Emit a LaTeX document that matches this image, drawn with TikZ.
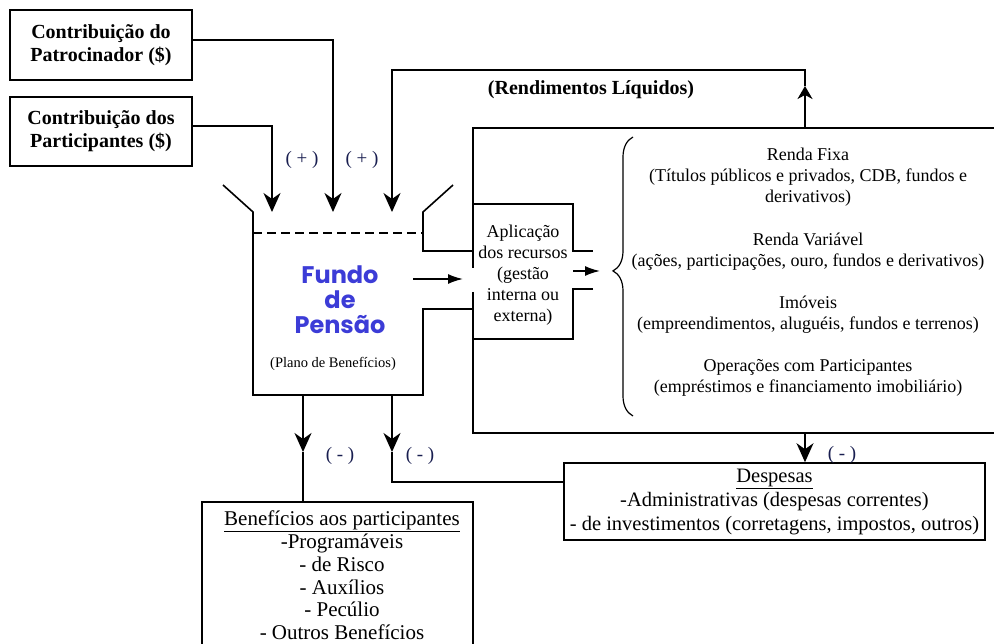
\documentclass[tikz,border=0pt]{standalone}
\usepackage{fontspec}
\setmainfont{Liberation Serif}
\newfontfamily\fundfont{Poppins}
\usetikzlibrary{arrows.meta,decorations.pathreplacing}
\definecolor{fundblue}{RGB}{60,60,215}
\definecolor{signcol}{RGB}{25,30,80}
\begin{document}
\begin{tikzpicture}[x=1pt,y=-1pt, line width=1.6pt,
  box/.style={draw, rectangle, inner sep=0pt, align=center},
  arr/.style={-{Stealth[length=19pt,width=17pt,inset=6pt]}},
  uarr/.style={-{Stealth[length=13pt,width=15pt,inset=4pt]}},
  sarr/.style={-{Latex[length=15pt,width=10pt]}},
  lbl/.style={inner sep=0pt, align=center},
  bigtxt/.style={font=\bfseries\fontsize{20}{23}\selectfont},
  midtxt/.style={font=\fontsize{18}{21}\selectfont},
  sign/.style={lbl, text=signcol, font=\fontsize{19}{21}\selectfont}]
\fill[white] (0,0) rectangle (994,644);
\useasboundingbox (0,0) rectangle (994,644);

% source boxes
\node[box, bigtxt, minimum width=182pt, minimum height=70pt] (patro) at (101,45) {Contribuição do\\Patrocinador (\$)};
\node[box, bigtxt, minimum width=182pt, minimum height=69pt] (partic) at (101,131.5) {Contribuição dos\\Participantes (\$)};

% helper coordinates
\coordinate (in1) at (272,212);
\coordinate (in2) at (333,212);
\coordinate (in3) at (392,212);
\coordinate (h40) at (0,40);
\coordinate (h126) at (0,126);
\coordinate (h482) at (0,482);
\coordinate (fb1) at (303,395);
\coordinate (fb2) at (392,395);
\coordinate (m1) at (303,452);
\coordinate (m2) at (392,452);
\coordinate (bbu) at (805,128);
\coordinate (upt) at (805,86);
\coordinate (topr) at (805,70);
\coordinate (bbd) at (805,433);
\coordinate (fa1) at (413,279);
\coordinate (fa2) at (463,279);
\coordinate (ab1) at (573,271);
\coordinate (ab2) at (600,271);

% funnel (fund)
\draw (223,185) -- (253,212) -- (253,395) -- (423,395) -- (423,309) -- (473,309);
\draw (453,185) -- (423,212) -- (423,251) -- (473,251);
\draw[dash pattern=on 9pt off 5pt] (253,233) -- (423,233);
\node[lbl, text=fundblue, font=\fundfont\bfseries\fontsize{24}{25}\selectfont] (fundtxt) at (340,300) {Fundo\\de\\Pensão};
\node[lbl, font=\fontsize{14.5}{16}\selectfont] (plano) at (333,364) {(Plano de Benefícios)};

% big investment box
\draw (1000,128) -- (473,128) -- (473,268);
\draw (473,292) -- (473,433) -- (1000,433);
\draw (473,204) -- (573,204) -- (573,251) -- (593,251);
\draw (593,289) -- (573,289) -- (573,339) -- (473,339);
\node[lbl, midtxt] (aplic) at (523,275) {Aplicação\\dos recursos\\(gestão\\interna ou\\externa)};
\draw[line width=1.2pt, decorate, decoration={brace, amplitude=20pt, aspect=0.52}] (633,416) -- (633,137);
\node[lbl, midtxt] (rf) at (808,177) {Renda Fixa\\(Títulos públicos e privados, CDB, fundos e\\derivativos)};
\node[lbl, midtxt] (rv) at (808,251.5) {Renda Variável\\(ações, participações, ouro, fundos e derivativos)};
\node[lbl, midtxt] (im) at (808,314.5) {Imóveis\\(empreendimentos, aluguéis, fundos e terrenos)};
\node[lbl, midtxt] (op) at (808,378) {Operações com Participantes\\(empréstimos e financiamento imobiliário)};

\node[lbl, bigtxt] (rend) at (591,90) {(Rendimentos Líquidos)};

% output boxes
\node[box, minimum width=271pt, minimum height=170pt, anchor=north] (benef) at (337.5,501) {};
\node[lbl, font=\fontsize{21}{22.8}\selectfont] (beneftxt) at (342,575.5) {\underline{Benefícios aos participantes}\\-Programáveis\\- de Risco\\- Auxílios\\- Pecúlio\\- Outros Benefícios};
\node[box, minimum width=421pt, minimum height=77pt, font=\fontsize{20.5}{24}\selectfont] (desp) at (774.5,501.5) {\underline{Despesas}\\-Administrativas (despesas correntes)\\- de investimentos (corretagens, impostos, outros)};

% connectors
\draw[arr] (patro.east |- h40) -| (in2);
\draw[arr] (partic.east |- h126) -| (in1);
\draw[uarr] (bbu) -- (upt);
\draw[arr] (upt) -- (topr) -| (in3);
\draw[sarr] (fa1) -- (fa2);
\draw[sarr] (ab1) -- (ab2);
\draw[arr] (fb1) -- (m1);
\draw (m1) -- (benef.north -| m1);
\draw[arr] (fb2) -- (m2);
\draw (m2) |- (desp.west |- h482);
\draw[arr] (bbd) -- (bbd |- desp.north);

% signs
\node[sign] (p1) at (302,160) {( + )};
\node[sign] (p2) at (362,160) {( + )};
\node[sign] (n1) at (340,456) {( - )};
\node[sign] (n2) at (420,456) {( - )};
\node[sign] (n3) at (842,455) {( - )};
\end{tikzpicture}
\end{document}
